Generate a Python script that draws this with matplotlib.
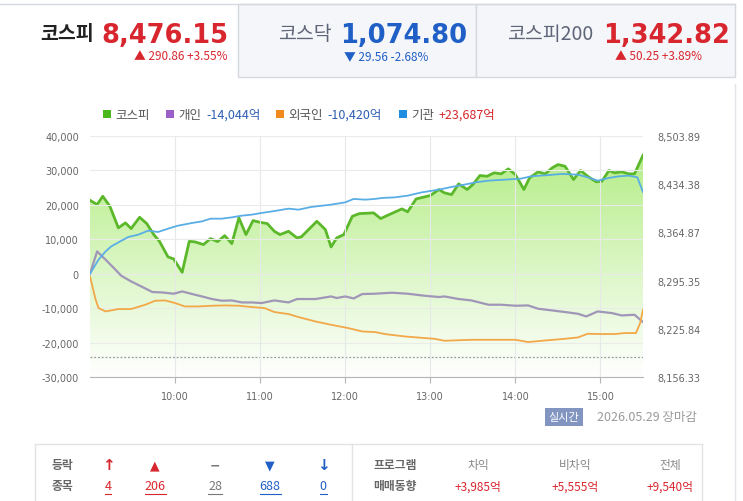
import numpy as np
import matplotlib
matplotlib.use('Agg')
import matplotlib.pyplot as plt
from matplotlib.patches import Rectangle, Polygon, FancyBboxPatch
from matplotlib.lines import Line2D

plt.rcParams['font.family'] = ['Noto Sans CJK KR', 'DejaVu Sans']

# ---- data (minutes after 09:00) ----
kospi_min = [0, 5, 9, 14, 20, 25, 29, 35, 40, 45, 49, 55, 59, 65, 70, 74, 80, 85, 90, 95,
             100, 105, 110, 115, 120, 125, 130, 134, 140, 146, 149, 160, 166, 170, 174, 179,
             185, 190, 200, 205, 210, 220, 224, 230, 240, 246, 250, 255, 260, 266, 270, 275,
             280, 285, 290, 295, 300, 306, 310, 316, 321, 326, 330, 335, 341, 346, 351, 357,
             361, 366, 370, 375, 380, 384, 390]
kospi_val = [8411.2, 8405.0, 8417.0, 8402.6, 8371.4, 8378.6, 8370.4, 8386.7, 8377.6, 8361.7,
             8352.0, 8329.5, 8326.6, 8307.3, 8352.0, 8351.2, 8347.3, 8355.9, 8351.6, 8360.2,
             8348.7, 8385.8, 8361.7, 8381.9, 8379.4, 8377.6, 8366.5, 8361.7, 8366.5, 8356.9,
             8358.4, 8380.9, 8368.9, 8343.9, 8356.9, 8361.7, 8388.1, 8392.0, 8393.0, 8384.8,
             8389.6, 8398.8, 8394.5, 8413.2, 8418.0, 8426.7, 8421.9, 8419.4, 8434.9, 8426.7,
             8433.9, 8446.9, 8445.8, 8450.8, 8449.3, 8456.5, 8448.3, 8426.7, 8443.5, 8452.2,
             8449.3, 8458.0, 8462.7, 8460.3, 8441.1, 8454.1, 8445.8, 8437.8, 8438.6, 8454.1,
             8450.8, 8452.2, 8449.3, 8449.3, 8476.15]

inst_min = [0, 6, 11, 15, 20, 27, 34, 41, 48, 55, 62, 72, 79, 85, 93, 100, 107, 114, 121, 130,
            140, 147, 156, 170, 180, 186, 194, 201, 206, 215, 224, 234, 246, 255, 264, 272, 281,
            293, 304, 311, 321, 333, 344, 351, 358, 366, 373, 380, 386, 390]
inst_val = [0, 4070, 6480, 7940, 9100, 10670, 11340, 12500, 12120, 13080, 13950, 14740, 15200,
            15990, 15990, 16370, 16860, 17150, 17650, 18200, 18900, 18600, 19390, 20060, 20730,
            21720, 21510, 21720, 22000, 22180, 22670, 23630, 24420, 25200, 25870, 26540, 27030,
            27330, 27620, 28290, 28580, 28990, 28780, 28000, 27030, 27820, 28290, 28490, 28000,
            23687]

indiv_min = [0, 5, 11, 18, 22, 29, 37, 44, 51, 59, 65, 72, 79, 86, 93, 100, 107, 114, 121, 130,
             140, 146, 159, 170, 174, 180, 186, 192, 201, 213, 224, 236, 246, 250, 260, 269, 281,
             290, 300, 309, 316, 326, 335, 344, 350, 358, 368, 375, 384, 390]
indiv_val = [0, 6480, 4070, 1160, -580, -2240, -3870, -5320, -5440, -5810, -5150, -5900, -6600,
             -7350, -7850, -7760, -8340, -8340, -8520, -7760, -8340, -7350, -7350, -6600, -7060,
             -6600, -7180, -5900, -5810, -5520, -5810, -6400, -6770, -6600, -7350, -7760, -9010,
             -9010, -9300, -9210, -10170, -10670, -11130, -11630, -12410, -10960, -11430, -12120,
             -11920, -14044]

foreign_min = [0, 4, 6, 11, 20, 29, 39, 46, 53, 60, 67, 76, 86, 95, 105, 114, 123, 130, 140,
               147, 159, 170, 182, 192, 201, 208, 222, 236, 243, 250, 269, 286, 300, 309, 321,
               333, 344, 351, 361, 370, 377, 385, 388, 390]
foreign_val = [-800, -7560, -9970, -10960, -10260, -10260, -9010, -7850, -7760, -8520, -9510,
               -9510, -9300, -9210, -9300, -9680, -9970, -11130, -11720, -12590, -13870, -14830,
               -15780, -16770, -16950, -17530, -18220, -18690, -18900, -19480, -19190, -19190,
               -19190, -19850, -19390, -18980, -18520, -17440, -17530, -17530, -17240, -17240,
               -14340, -10420]

prev_close = 8185.29
left_ticks = [-30000, -20000, -10000, 0, 10000, 20000, 30000, 40000]
right_lo, right_hi = 8156.33, 8503.89
hour_min = [60, 120, 180, 240, 300, 360]
hour_labels = ['10:00', '11:00', '12:00', '13:00', '14:00', '15:00']

W, H = 743, 502
def fx(x): return x / W
def fy(y): return 1 - y / H

fig = plt.figure(figsize=(W / 100, H / 100), dpi=100)
fig.patch.set_facecolor('white')

# ---- header tabs ----
fig.add_artist(Line2D([0, fx(735)], [fy(5), fy(5)], color='#d5d8de', lw=1))
for x0, x1 in ((238, 476), (476, 735)):
    fig.add_artist(Rectangle((fx(x0), fy(78)), fx(x1) - fx(x0), fy(5) - fy(78),
                             facecolor='#f5f6f9', edgecolor='#d5d8de', lw=1))

red, blue = '#d8262e', '#1f5fc6'
num_font = ['DejaVu Sans']
fig.text(fx(40), fy(35), '코스피', size=14, weight='bold', color='#222222', va='center')
fig.text(fx(101), fy(36), '8,476.15', size=18.5, weight='bold', color=red, va='center', family=num_font)
fig.text(fx(228), fy(57), '▲ 290.86 +3.55%', size=8.5, color=red, ha='right', va='center')
fig.text(fx(278), fy(35), '코스닥', size=14, color='#5f6578', va='center')
fig.text(fx(340), fy(36), '1,074.80', size=18.5, weight='bold', color=blue, va='center', family=num_font)
fig.text(fx(428), fy(57), '▼ 29.56 -2.68%', size=8.5, color=blue, ha='right', va='center')
fig.text(fx(507), fy(35), '코스피200', size=14, color='#5f6578', va='center')
fig.text(fx(603), fy(36), '1,342.82', size=18.5, weight='bold', color=red, va='center', family=num_font)
fig.text(fx(702), fy(57), '▲ 50.25 +3.89%', size=8.5, color=red, ha='right', va='center')

# ---- legend ----
legend_items = [(103, '#4cb71d', '코스피', None, None),
                (166, '#9b5fc9', '개인', '-14,044억', '#2f5fb3'),
                (276, '#f08a1d', '외국인', '-10,420억', '#2f5fb3'),
                (399, '#1e8fe0', '기관', '+23,687억', '#d6262b')]
for x0, c, lab, val, vc in legend_items:
    fig.add_artist(Rectangle((fx(x0), fy(119)), 8 / W, 8 / H, facecolor=c, edgecolor='none'))
    t = fig.text(fx(x0 + 12), fy(115), lab, size=9, color='#555555', va='center')
    if val:
        fig.canvas.draw()
        bb = t.get_window_extent()
        fig.text((bb.x1 + 5) / W, fy(115), val, size=9, color=vc, va='center')

# ---- chart ----
ax2 = fig.add_axes([fx(90), fy(378), (643 - 90) / W, (378 - 137) / H])
ax = ax2.twinx()
ax.yaxis.set_label_position('left')
ax.yaxis.tick_left()
ax2.yaxis.tick_right()
ax.set_zorder(ax2.get_zorder() + 1)
ax.patch.set_visible(False)

ax2.set_xlim(0, 390)
ax2.set_ylim(right_lo, right_hi)
ax.set_ylim(-30000, 40000)

verts = [(kospi_min[0], right_lo)] + list(zip(kospi_min, kospi_val)) + [(kospi_min[-1], right_lo)]
clip = Polygon(verts, closed=True, facecolor='none', edgecolor='none', transform=ax2.transData)
ax2.add_patch(clip)
n = 256
top = np.array([0.69, 0.925, 0.50])
frac = np.linspace(0, 1, n)[:, None]
grad = top[None, :] * (1 - frac) + np.array([1.0, 1.0, 1.0])[None, :] * frac
grad = np.repeat(grad[:, None, :], 2, axis=1)
im = ax2.imshow(grad, extent=[0, 390, right_lo, right_hi], aspect='auto', origin='upper', zorder=1)
im.set_clip_path(clip)
ax2.plot(kospi_min, kospi_val, color='#5cb82b', lw=2.0, zorder=3, solid_joinstyle='round')
ax2.axhline(prev_close, color='#9a9a9a', lw=0.9, ls=(0, (1.5, 1.5)), zorder=2)

for t in left_ticks:
    ax.axhline(t, color='#e9ece9', lw=0.8, zorder=0)
for m in hour_min:
    ax.axvline(m, color='#e6e8ea', lw=0.8, zorder=0)

ax.plot(indiv_min, indiv_val, color='#a096b8', lw=1.6, zorder=4)
ax.plot(foreign_min, foreign_val, color='#f2a848', lw=1.3, zorder=4)
ax.plot(inst_min, inst_val, color='#5aaee6', lw=1.3, zorder=5)

ax.set_yticks(left_ticks)
ax.set_yticklabels([f'{t:,}' for t in left_ticks])
rticks = np.linspace(right_lo, right_hi, 6)
ax2.set_yticks(rticks)
ax2.set_yticklabels([f'{t:,.2f}' for t in rticks])
ax2.set_xticks(hour_min)
ax2.set_xticklabels(hour_labels)

for a in (ax, ax2):
    for s in a.spines.values():
        s.set_visible(False)
ax2.spines['bottom'].set_visible(True)
ax2.spines['bottom'].set_color('#b5b5b5')
ax.tick_params(axis='y', length=0, pad=8, labelsize=7, labelcolor='#666666')
ax2.tick_params(axis='y', length=0, pad=10, labelsize=7, labelcolor='#666666')
ax2.tick_params(axis='x', length=4, color='#b5b5b5', pad=6, labelsize=7, labelcolor='#666666')
for lbl in ax.get_yticklabels() + ax2.get_yticklabels() + ax2.get_xticklabels():
    lbl.set_family('DejaVu Sans')

# ---- status line ----
fig.add_artist(FancyBboxPatch((fx(545), fy(427)), 38 / W, 18 / H, boxstyle='square,pad=0',
                              facecolor='#8294c0', edgecolor='none'))
fig.text(fx(564), fy(418), '실시간', size=8, color='white', ha='center', va='center')
fig.text(fx(597), fy(418), '2026.05.29 장마감', size=9, color='#9a9a9a', va='center')
fig.add_artist(Line2D([fx(735), fx(735)], [fy(502), fy(85)], color='#e3e5ea', lw=1))

# ---- bottom table ----
fig.add_artist(Line2D([fx(35), fx(702)], [fy(445), fy(445)], color='#e1e3e6', lw=1))
fig.add_artist(Line2D([fx(35), fx(35)], [fy(445), 0], color='#e1e3e6', lw=1))
fig.add_artist(Line2D([fx(702), fx(702)], [fy(445), 0], color='#e1e3e6', lw=1))
fig.add_artist(Line2D([fx(352), fx(352)], [fy(445), 0], color='#e1e3e6', lw=1))

fig.text(fx(62), fy(466), '등락', size=8.5, weight='bold', color='#666666', ha='center', va='center')
fig.text(fx(62), fy(487), '종목', size=8.5, weight='bold', color='#666666', ha='center', va='center')

updown_x = [108, 155, 215, 270, 323]
updown_sym = ['↑', '▲', '−', '▼', '↓']
updown_cnt = ['4', '206', '28', '688', '0']
updown_col = [red, red, '#777777', blue, blue]
underline = []
for x0, s, c, col in zip(updown_x, updown_sym, updown_cnt, updown_col):
    fig.text(fx(x0), fy(466), s, size=9 if s not in '↑↓' else 11, weight='bold', color=col,
             ha='center', va='center', family=['DejaVu Sans'])
    underline.append((fig.text(fx(x0), fy(487), c, size=9, color=col, ha='center', va='center'), col))

fig.text(fx(395), fy(466), '프로그램', size=8.5, weight='bold', color='#666666', ha='center', va='center')
fig.text(fx(395), fy(487), '매매동향', size=8.5, weight='bold', color='#666666', ha='center', va='center')

prog_x = [478, 575, 670]
prog_lab = ['차익', '비차익', '전체']
prog_val = ['+3,985억', '+5,555억', '+9,540억']
for x0, lab, v in zip(prog_x, prog_lab, prog_val):
    fig.text(fx(x0), fy(466), lab, size=8.5, color='#888888', ha='center', va='center')
    fig.text(fx(x0), fy(487), v, size=8.5, color=red, ha='center', va='center')

fig.canvas.draw()
for t, col in underline:
    bb = t.get_window_extent()
    fig.add_artist(Line2D([bb.x0 / W, bb.x1 / W], [fy(495), fy(495)], color=col, lw=0.8))

fig.savefig('out.png', dpi=100)
